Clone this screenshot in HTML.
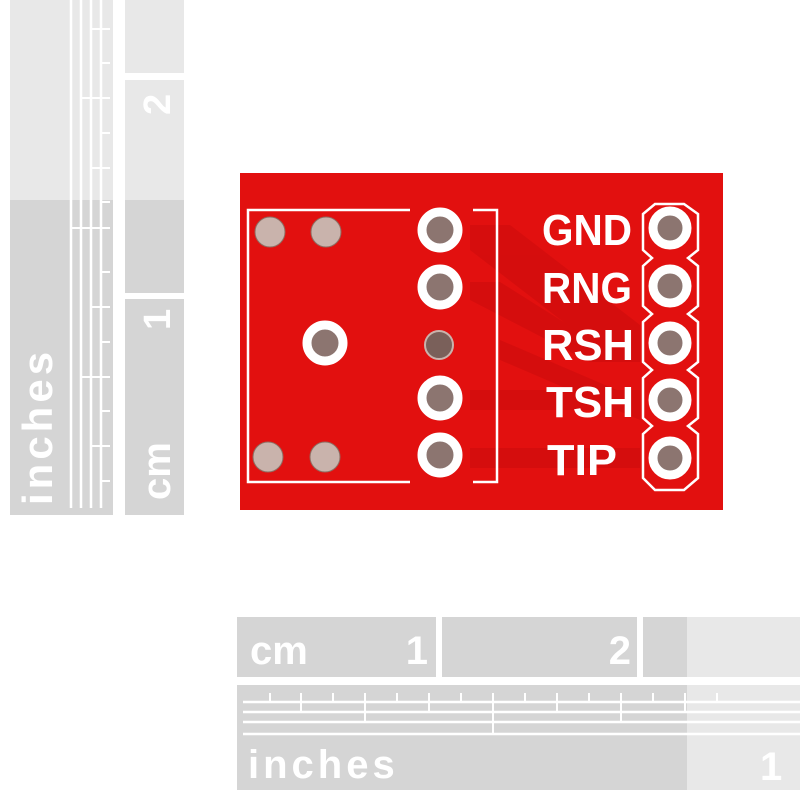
<!DOCTYPE html>
<html><head><style>
html,body{margin:0;padding:0;background:#fff;width:800px;height:792px;overflow:hidden}
svg{display:block}
</style></head><body>
<svg width="800" height="792" xmlns="http://www.w3.org/2000/svg" font-family="Liberation Sans, sans-serif">
<rect x="10" y="0" width="103" height="200" fill="#e8e8e8"/>
<rect x="10" y="200" width="103" height="315" fill="#d5d5d5"/>
<g stroke="#fff" stroke-width="2.5">
<line x1="71" y1="0" x2="71" y2="508"/>
<line x1="81" y1="0" x2="81" y2="508"/>
<line x1="91" y1="0" x2="91" y2="508"/>
<line x1="101" y1="0" x2="101" y2="508"/>
</g>
<g stroke="#fff" stroke-width="2">
<line x1="91" y1="29" x2="110" y2="29"/><line x1="101" y1="63" x2="110" y2="63"/>
<line x1="81" y1="98" x2="110" y2="98"/><line x1="101" y1="133" x2="110" y2="133"/>
<line x1="91" y1="168" x2="110" y2="168"/><line x1="101" y1="202" x2="110" y2="202"/>
<line x1="71" y1="228" x2="110" y2="228"/><line x1="101" y1="272" x2="110" y2="272"/>
<line x1="91" y1="307" x2="110" y2="307"/><line x1="101" y1="342" x2="110" y2="342"/>
<line x1="81" y1="377" x2="110" y2="377"/><line x1="101" y1="411" x2="110" y2="411"/>
<line x1="91" y1="446" x2="110" y2="446"/><line x1="101" y1="481" x2="110" y2="481"/>
</g>
<text transform="translate(52,505) rotate(-90)" font-size="42" font-weight="bold" fill="#fff" letter-spacing="4">inches</text>
<rect x="125" y="0" width="59" height="73" fill="#e8e8e8"/>
<rect x="125" y="80" width="59" height="120" fill="#e8e8e8"/>
<rect x="125" y="200" width="59" height="93" fill="#d5d5d5"/>
<rect x="125" y="299" width="59" height="216" fill="#d5d5d5"/>
<text transform="translate(170,115) rotate(-90)" font-size="38" font-weight="bold" fill="#fff">2</text>
<text transform="translate(170,330) rotate(-90)" font-size="38" font-weight="bold" fill="#fff">1</text>
<text transform="translate(170,500) rotate(-90)" font-size="40" font-weight="bold" fill="#fff">cm</text>

<rect x="237" y="617" width="199" height="60" fill="#d5d5d5"/>
<rect x="442" y="617" width="195" height="60" fill="#d5d5d5"/>
<rect x="643" y="617" width="44" height="60" fill="#d5d5d5"/>
<rect x="687" y="617" width="113" height="60" fill="#e8e8e8"/>
<text x="250" y="664" font-size="40" font-weight="bold" fill="#fff">cm</text>
<text x="428" y="664" font-size="40" font-weight="bold" fill="#fff" text-anchor="end">1</text>
<text x="631" y="664" font-size="40" font-weight="bold" fill="#fff" text-anchor="end">2</text>
<rect x="237" y="685" width="450" height="105" fill="#d5d5d5"/>
<rect x="687" y="685" width="113" height="105" fill="#e8e8e8"/>
<g stroke="#fff" stroke-width="2.5">
<line x1="243" y1="702" x2="800" y2="702"/>
<line x1="243" y1="712" x2="800" y2="712"/>
<line x1="243" y1="722" x2="800" y2="722"/>
<line x1="243" y1="734" x2="800" y2="734"/>
</g>
<g stroke="#fff" stroke-width="2">
<line x1="270" y1="693" x2="270" y2="702"/><line x1="301" y1="693" x2="301" y2="712"/>
<line x1="333" y1="693" x2="333" y2="702"/><line x1="365" y1="693" x2="365" y2="722"/>
<line x1="397" y1="693" x2="397" y2="702"/><line x1="429" y1="693" x2="429" y2="712"/>
<line x1="461" y1="693" x2="461" y2="702"/><line x1="493" y1="693" x2="493" y2="734"/>
<line x1="525" y1="693" x2="525" y2="702"/><line x1="557" y1="693" x2="557" y2="712"/>
<line x1="589" y1="693" x2="589" y2="702"/><line x1="621" y1="693" x2="621" y2="722"/>
<line x1="653" y1="693" x2="653" y2="702"/><line x1="685" y1="693" x2="685" y2="712"/>
<line x1="717" y1="693" x2="717" y2="702"/>
</g>
<text x="248" y="778" font-size="40" font-weight="bold" fill="#fff" letter-spacing="4">inches</text>
<text x="760" y="780" font-size="40" font-weight="bold" fill="#fff">1</text>

<rect x="240" y="173" width="483" height="337" fill="#e2100f"/>
<g fill="#c70b0b" opacity="0.45">
<polygon points="470,225 510,225 640,325 640,350 600,350 470,250"/>
<polygon points="470,282 500,282 600,345 640,345 640,362 590,362 470,300"/>
<polygon points="470,390 640,390 640,410 470,410"/>
<polygon points="470,448 640,448 640,468 470,468"/>
<polygon points="500,340 640,400 640,420 500,360"/>
</g>
<g stroke="#fff" stroke-width="2.5" fill="none">
<polyline points="410,210 248,210 248,482 410,482"/>
<polyline points="473,210 497,210 497,482 473,482"/>
<polygon points="655,204 684,204 698,214 698,250 688,258 698,266 698,306 688,314 698,322 698,362 688,370 698,378 698,418 688,426 698,434 698,478 684,490 655,490 643,478 643,434 652,426 643,418 643,378 652,370 643,362 643,322 652,314 643,306 643,266 652,258 643,250 643,214"/>
</g>
<g fill="#c9b3ac" stroke="#8e6d62" stroke-width="1">
<circle cx="270" cy="232" r="15"/><circle cx="326" cy="232" r="15"/>
<circle cx="268" cy="457" r="15"/><circle cx="325" cy="457" r="15"/>
</g>
<circle cx="439" cy="345" r="14" fill="#7a605a" stroke="#c9b3ac" stroke-width="2"/>
<g fill="#8c7570" stroke="#fff" stroke-width="9">
<circle cx="440" cy="230" r="18"/>
<circle cx="440" cy="287" r="18"/>
<circle cx="440" cy="398" r="18"/>
<circle cx="440" cy="455" r="18"/>
<circle cx="325" cy="343" r="18"/>
<circle cx="670" cy="228" r="17"/>
<circle cx="670" cy="286" r="17"/>
<circle cx="670" cy="343" r="17"/>
<circle cx="670" cy="400" r="17"/>
<circle cx="670" cy="458" r="17"/>
</g>
<g font-size="44" font-weight="bold" fill="#fff">
<text x="542" y="245" textLength="90" lengthAdjust="spacingAndGlyphs">GND</text>
<text x="542" y="303" textLength="90" lengthAdjust="spacingAndGlyphs">RNG</text>
<text x="542" y="360" textLength="92" lengthAdjust="spacingAndGlyphs">RSH</text>
<text x="546" y="417" textLength="88" lengthAdjust="spacingAndGlyphs">TSH</text>
<text x="547" y="475" textLength="70" lengthAdjust="spacingAndGlyphs">TIP</text>
</g>
</svg>
</body></html>
